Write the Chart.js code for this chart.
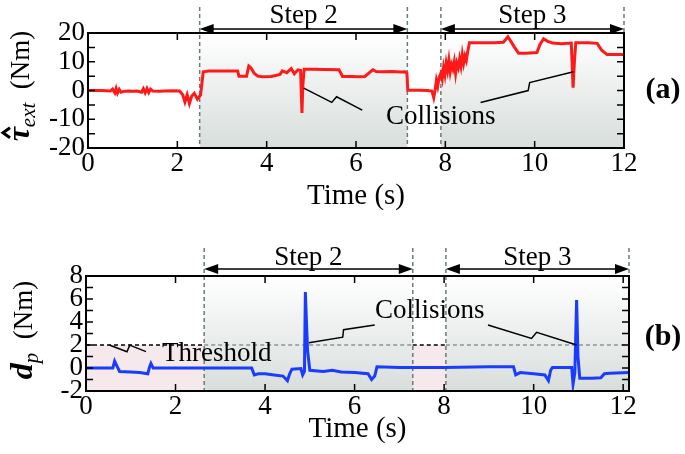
<!DOCTYPE html>
<html>
<head>
<meta charset="utf-8">
<script src="https://cdn.jsdelivr.net/npm/chart.js@4.4.1/dist/chart.umd.min.js"></script>
<style>
  html, body { margin: 0; padding: 0; background: #fff; }
  #wrap { position: relative; width: 685px; height: 454px; }
  #wrap canvas { position: absolute; left: 0; }
</style>
</head>
<body>
<div id="wrap">
  <canvas id="tauChart" width="685" height="222" style="top:0"></canvas>
  <canvas id="dpChart" width="685" height="232" style="top:222px"></canvas>
</div>
<script>
// ---- data ----
const xTicks = [0, 2, 4, 6, 8, 10, 12];
const tauTicks = [-20, -10, 0, 10, 20];
const dpTicks = [-2, 0, 2, 4, 6, 8];

// (a) estimated external torque
const tauTime = [0, 0.3, 0.5, 0.55, 0.6, 0.63, 0.66, 0.7, 0.74, 0.8, 0.9, 1.0, 1.1, 1.2, 1.24, 1.28, 1.32, 1.36, 1.4, 1.45, 1.6, 1.7,
  1.9, 2.05, 2.12, 2.17, 2.22, 2.27, 2.32, 2.38, 2.45, 2.52, 2.58, 2.7, 3.0, 3.35, 3.38, 3.55, 3.6, 3.65, 3.72, 3.8,
  3.9, 4.1, 4.3, 4.35, 4.45, 4.55, 4.62, 4.7, 4.76, 4.79, 4.81, 4.84, 5.0, 5.3, 5.62, 5.7, 5.9, 6.05, 6.2, 6.3, 6.38,
  6.45, 6.6, 6.8, 7.0, 7.1, 7.14, 7.16, 7.4, 7.6, 7.7, 7.74, 7.77, 7.8, 7.83, 7.86, 7.9, 7.93, 7.96, 7.99, 8.02, 8.05,
  8.08, 8.11, 8.14, 8.17, 8.2, 8.23, 8.26, 8.29, 8.32, 8.35, 8.38, 8.41, 8.44, 8.47, 8.5, 8.54, 8.8, 9.1, 9.3, 9.4,
  9.45, 9.55, 9.64, 9.8, 10.05, 10.12, 10.2, 10.28, 10.4, 10.6, 10.82, 10.86, 10.89, 10.92, 11.2, 11.4, 11.5, 11.62, 12.0];
const tauValue = [0, 0, -0.2, 0.5, -0.8, 0.7, -0.9, 0.4, -0.6, -0.3, -0.2, -0.3, -0.2, -0.6, 0.6, -0.8, 0.7, -0.7, 0.5, -0.2, -0.3, -0.2,
  -0.1, -0.2, -1.5, -4.0, -1.5, -4.5, -2.0, -1.0, -3.0, -1.5, 6.5, 6.8, 6.8, 6.8, 5.0, 5.0, 8.5, 7.8, 6.0, 5.0,
  4.8, 4.9, 5.6, 6.8, 6.2, 7.6, 5.8, 7.2, 7.0, -7.8, 2.0, 7.4, 7.4, 7.3, 7.2, 4.9, 4.9, 4.8, 4.9, 6.2, 7.2,
  6.6, 6.5, 6.6, 6.4, 6.5, 6.0, 0.1, 0.1, 0.0, -0.2, -2.5, 0.0, 3.5, 1.5, 4.5, 6.0, 4.0, 8.0, 5.5, 9.5, 7.0,
  10.5, 6.5, 9.0, 7.5, 10.0, 6.0, 9.5, 8.0, 11.0, 8.5, 12.5, 9.5, 12.0, 10.5, 13.5, 16.6, 16.6, 16.6, 16.8, 18.7,
  17.5, 15.0, 13.0, 13.0, 13.2, 16.0, 18.0, 17.2, 16.5, 16.3, 16.5, 1.0, 10.0, 16.6, 16.6, 16.4, 14.0, 12.5, 12.5];

// (b) collision detection signal
const dpTime = [0, 0.6, 0.64, 0.7, 0.75, 1.0, 1.2, 1.38, 1.42, 1.45, 1.5, 2.0, 2.6, 3.7, 3.76, 3.85, 4.0, 4.2, 4.4, 4.5,
  4.55, 4.6, 4.8, 4.84, 4.88, 4.9, 4.93, 4.95, 5.0, 5.3, 5.5, 5.7, 6.0, 6.3, 6.38, 6.45, 6.5, 7.0, 8.0, 9.0,
  9.55, 9.6, 9.7, 10.0, 10.25, 10.33, 10.38, 10.42, 10.85, 10.88, 10.92, 10.96, 10.99, 11.03, 11.3, 11.5, 11.58, 11.7, 12.13];
const dpValue = [0, 0, 0.6, 0.1, -0.3, -0.35, -0.4, -0.5, 0.1, 0.4, 0, 0, 0, 0, -0.6, -0.5, -0.5, -0.6, -0.7, -1.1,
  -0.5, -0.1, -0.05, -0.6, -0.3, 6.6, 3.5, 1.5, -0.2, -0.3, -0.2, -0.35, -0.4, -0.5, -1.0, -0.7, 0.1, 0.05, 0.05, 0.1,
  0.1, -0.6, -0.4, -0.5, -0.6, -1.1, -0.2, 0.05, 0.05, -1.4, -0.4, 5.9, 1.0, -0.9, -0.9, -0.85, -0.5, -0.45, -0.4];

const stepsA = [2.5, 7.15, 7.9, 12];
const stepsB = [2.64, 7.3, 8.04, 12.13];
const stepNames = ['Step 2', 'Step 3'];
const threshold = 2;

const SERIF = '"Liberation Serif", "Times New Roman", serif';

// ---- drawing helpers ----
function arrow(ctx, x0, x1, y) {
  ctx.beginPath();
  ctx.moveTo(x0 + 10, y); ctx.lineTo(x1 - 10, y);
  ctx.stroke();
  ctx.beginPath();
  ctx.moveTo(x0, y); ctx.lineTo(x0 + 14, y - 5); ctx.lineTo(x0 + 14, y + 5); ctx.closePath();
  ctx.moveTo(x1, y); ctx.lineTo(x1 - 14, y - 5); ctx.lineTo(x1 - 14, y + 5); ctx.closePath();
  ctx.fill();
}

// leader line with the little "lightning" kink in the middle
function leader(ctx, ax, ay, bx, by) {
  const dx = bx - ax, dy = by - ay;
  const len = Math.hypot(dx, dy);
  const nx = -dy / len, ny = dx / len;
  const s = (ny > 0 ? 1 : -1) * 3.5;
  ctx.beginPath();
  ctx.moveTo(ax, ay);
  ctx.lineTo(ax + dx * 0.5 + nx * s, ay + dy * 0.5 + ny * s);
  ctx.lineTo(ax + dx * 0.54 - nx * s, ay + dy * 0.54 - ny * s);
  ctx.lineTo(bx, by);
  ctx.stroke();
}

function yTitle(ctx, baseX, centerY, main, sub, hat) {
  const fMain = 'bold italic 32px ' + SERIF;
  const fSub = 'italic 21px ' + SERIF;
  const fUnit = '27px ' + SERIF;
  const unit = '  (Nm)';
  ctx.save();
  ctx.translate(baseX, centerY);
  ctx.rotate(-Math.PI / 2);
  ctx.fillStyle = '#000';
  ctx.strokeStyle = '#000';
  ctx.textAlign = 'left';
  ctx.textBaseline = 'alphabetic';
  ctx.font = fMain; const wM = ctx.measureText(main).width;
  ctx.font = fSub; const wS = ctx.measureText(sub).width;
  ctx.font = fUnit; const wU = ctx.measureText(unit).width;
  let x = -(wM + wS + wU) / 2;
  ctx.font = fMain; ctx.fillText(main, x, 0);
  if (hat) {
    ctx.lineWidth = 3;
    ctx.beginPath();
    ctx.moveTo(x + wM * 0.25, -19); ctx.lineTo(x + wM * 0.6, -26); ctx.lineTo(x + wM * 0.95, -19);
    ctx.stroke();
  }
  x += wM;
  ctx.font = fSub; ctx.fillText(sub, x, 6);
  x += wS;
  ctx.font = fUnit; ctx.fillText(unit, x, 0);
  ctx.restore();
}

const deco = {
  id: 'deco',
  beforeDatasetsDraw(chart, args, o) {
    const { ctx, chartArea: a, scales: { x, y } } = chart;
    const b = o.bounds;
    const px = v => x.getPixelForValue(v);
    ctx.save();
    // pink "below threshold" zones
    if (o.pink) {
      const yt = y.getPixelForValue(threshold);
      ctx.fillStyle = '#f5e9eb';
      ctx.fillRect(a.left, yt, px(b[0]) - a.left, a.bottom - yt);
      ctx.fillRect(px(b[1]), yt, px(b[2]) - px(b[1]), a.bottom - yt);
    }
    // shaded step regions
    const g = ctx.createLinearGradient(0, a.top, 0, a.bottom);
    g.addColorStop(0, '#ffffff');
    g.addColorStop(1, '#d8dedc');
    ctx.fillStyle = g;
    ctx.fillRect(px(b[0]), a.top, px(b[1]) - px(b[0]), a.bottom - a.top);
    ctx.fillRect(px(b[2]), a.top, px(b[3]) - px(b[2]), a.bottom - a.top);
    // threshold line
    if (o.pink) {
      const yt = y.getPixelForValue(threshold);
      ctx.lineWidth = 1.5;
      ctx.setLineDash([4, 3]);
      const segs = [[a.left, px(b[0]), '#000'], [px(b[0]), px(b[1]), '#8a9696'],
        [px(b[1]), px(b[2]), '#000'], [px(b[2]), a.right, '#8a9696']];
      segs.forEach(([s, e, c]) => {
        ctx.strokeStyle = c;
        ctx.beginPath(); ctx.moveTo(s, yt); ctx.lineTo(e, yt); ctx.stroke();
      });
    }
    // dashed step boundaries
    ctx.strokeStyle = '#6b7b7b';
    ctx.lineWidth = 1.5;
    ctx.setLineDash([4, 3]);
    b.forEach(v => {
      ctx.beginPath(); ctx.moveTo(px(v), o.dashTop); ctx.lineTo(px(v), a.bottom); ctx.stroke();
    });
    ctx.restore();
  },
  afterDatasetsDraw(chart, args, o) {
    const { ctx, chartArea: a, scales: { x, y } } = chart;
    const b = o.bounds;
    const px = v => x.getPixelForValue(v);
    const py = v => y.getPixelForValue(v);
    ctx.save();
    ctx.strokeStyle = '#000';
    ctx.fillStyle = '#000';
    // frame
    ctx.lineWidth = 2;
    ctx.strokeRect(a.left, a.top, a.right - a.left, a.bottom - a.top);
    // inward ticks
    ctx.lineWidth = 1.5;
    ctx.beginPath();
    for (let v = y.min; v <= y.max + 1e-9; v += o.yStep) {
      ctx.moveTo(a.left, py(v)); ctx.lineTo(a.left + 7, py(v));
      ctx.moveTo(a.right, py(v)); ctx.lineTo(a.right - 7, py(v));
    }
    xTicks.forEach(v => {
      ctx.moveTo(px(v), a.bottom); ctx.lineTo(px(v), a.bottom - 7);
      ctx.moveTo(px(v), a.top); ctx.lineTo(px(v), a.top + 7);
    });
    ctx.stroke();
    // step arrows and labels
    ctx.lineWidth = 1.5;
    arrow(ctx, px(b[0]), px(b[1]), o.arrowY);
    arrow(ctx, px(b[2]), px(b[3]), o.arrowY);
    ctx.font = '27px ' + SERIF;
    ctx.textAlign = 'center';
    ctx.textBaseline = 'alphabetic';
    ctx.fillText(stepNames[0], (px(b[0]) + px(b[1])) / 2, o.textBase);
    ctx.fillText(stepNames[1], (px(b[2]) + px(b[3])) / 2, o.textBase);
    // collisions
    ctx.lineWidth = 1.5;
    o.leaders.forEach(([p, q]) => leader(ctx, px(p[0]), py(p[1]), px(q[0]), py(q[1])));
    ctx.font = '27px ' + SERIF;
    ctx.textBaseline = 'middle';
    ctx.fillText('Collisions', px(o.collide[0]), py(o.collide[1]));
    if (o.thresh) {
      ctx.textAlign = 'left';
      ctx.fillText('Threshold', px(o.thresh.at[0]), py(o.thresh.at[1]));
      leader(ctx, px(o.thresh.line[0][0]), py(o.thresh.line[0][1]), px(o.thresh.line[1][0]), py(o.thresh.line[1][1]));
    }
    // panel label
    ctx.font = 'bold 30px ' + SERIF;
    ctx.textAlign = 'center';
    ctx.fillText(o.panel, 663, o.panelY);
    // y title
    yTitle(ctx, o.titleX, o.titleY, o.titleMain, o.titleSub, o.hat);
    ctx.restore();
  }
};

function makeChart(id, cfg) {
  return new Chart(document.getElementById(id), {
    type: 'line',
    data: {
      datasets: [{
        data: cfg.times.map((t, i) => ({ x: t, y: cfg.values[i] })),
        borderColor: cfg.color,
        borderWidth: 3,
        pointRadius: 0,
        tension: 0
      }]
    },
    options: {
      responsive: false,
      animation: false,
      devicePixelRatio: 1,
      layout: { padding: { top: cfg.padTop, right: cfg.padRight, left: 0, bottom: 0 } },
      plugins: { legend: { display: false }, tooltip: { enabled: false }, deco: cfg.deco },
      scales: {
        x: {
          type: 'linear', min: 0, max: cfg.xMax,
          grid: { display: false, drawTicks: false }, border: { display: false },
          afterBuildTicks: s => { s.ticks = xTicks.map(v => ({ value: v })); },
          afterFit: s => { s.height = cfg.xHeight; },
          ticks: { font: { family: SERIF, size: 27 }, color: '#000', padding: 0, autoSkip: false, maxRotation: 0 },
          title: { display: true, text: 'Time (s)', color: '#000', font: { family: SERIF, size: 29 },
            padding: { top: 0, bottom: cfg.titlePad } }
        },
        y: {
          min: cfg.yMin, max: cfg.yMax,
          grid: { display: false, drawTicks: false }, border: { display: false },
          afterBuildTicks: s => { s.ticks = cfg.yTicks.map(v => ({ value: v })); },
          afterFit: s => { s.width = cfg.yWidth; },
          ticks: { font: { family: SERIF, size: 27 }, color: '#000', padding: 3, autoSkip: false }
        }
      }
    },
    plugins: [deco]
  });
}

makeChart('tauChart', {
  times: tauTime, values: tauValue, color: '#ff1a1a',
  xMax: 12, yMin: -20, yMax: 20, yTicks: tauTicks,
  padTop: 33, padRight: 61, yWidth: 88, xHeight: 74, titlePad: 8,
  deco: {
    bounds: stepsA, yStep: 5, dashTop: 7, arrowY: 29, textBase: 23,
    leaders: [[[4.83, 0.8], [6.14, -6.8]], [[8.79, -4.2], [10.87, 6.5]]],
    collide: [7.9, -9.2],
    panel: '(a)', panelY: 90,
    titleX: 29, titleY: 86, titleMain: '\u03c4', titleSub: 'ext', hat: true
  }
});

makeChart('dpChart', {
  times: dpTime, values: dpValue, color: '#1a3cff',
  xMax: 12.13, yMin: -2, yMax: 8, yTicks: dpTicks,
  padTop: 54, padRight: 56, yWidth: 86, xHeight: 63, titlePad: 7,
  deco: {
    bounds: stepsB, yStep: 1, dashTop: 26, arrowY: 47, textBase: 43, pink: true,
    leaders: [[[4.98, 2.2], [6.45, 3.74]], [[8.98, 3.74], [10.96, 2.0]]],
    collide: [7.68, 4.96],
    thresh: { at: [1.7, 1.2], line: [[0.52, 2.0], [1.34, 1.42]] },
    panel: '(b)', panelY: 115,
    titleX: 32, titleY: 108, titleMain: 'd', titleSub: 'p', hat: false
  }
});
</script>
</body>
</html>
